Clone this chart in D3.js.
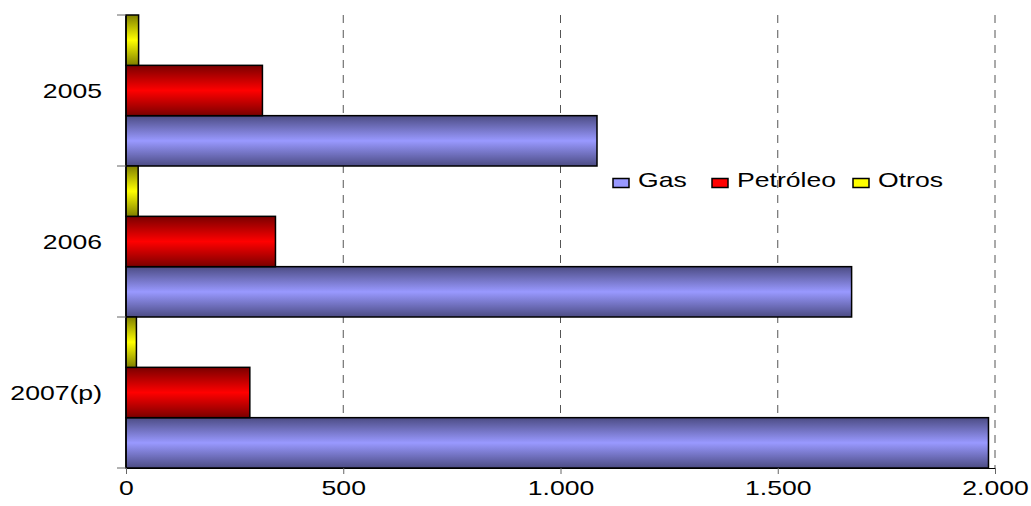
<!DOCTYPE html>
<html>
<head>
<meta charset="utf-8">
<script src="https://cdn.jsdelivr.net/npm/d3@7"></script>
<style>
  html, body { margin: 0; padding: 0; background: #fff; }
  svg { display: block; font-family: "Liberation Sans", Arial, sans-serif; }
</style>
</head>
<body>
<svg id="chart" width="1031" height="506"></svg>
<script>
// Categories (years) and series values
const years = ["2005", "2006", "2007(p)"];
const seriesNames = ["Gas", "Petróleo", "Otros"];
const gasValues = [1084, 1670, 1985];
const petroleoValues = [314, 344, 285];
const otrosValues = [29, 28, 24];
const xTicks = [0, 500, 1000, 1500, 2000];

const seriesColors = {
  "Gas":      { dark: "#4c4c84", light: "#9999ff" },
  "Petróleo": { dark: "#7a0000", light: "#ff0000" },
  "Otros":    { dark: "#7f7f00", light: "#ffff00" }
};

const rows = years.map((yr, i) => ({
  year: yr,
  "Gas": gasValues[i],
  "Petróleo": petroleoValues[i],
  "Otros": otrosValues[i]
}));

const svg = d3.select("#chart");
const plotLeft = 126, plotRight = 995, plotTop = 15, plotBottom = 468;
// text is drawn horizontally widened
const textStretch = 1.33;
const fontSize = 20;

const x = d3.scaleLinear().domain([0, 2000]).range([plotLeft, plotRight]);
const y = d3.scaleBand().domain(years).range([plotTop, plotBottom]).padding(0);
// within each year, bars run top-to-bottom: Otros, Petróleo, Gas
const yInner = d3.scaleBand().domain(["Otros", "Petróleo", "Gas"]).range([0, y.bandwidth()]).padding(0);

// gradients
const defs = svg.append("defs");
seriesNames.forEach((s, i) => {
  const g = defs.append("linearGradient")
    .attr("id", "grad" + i)
    .attr("x1", 0).attr("y1", 0).attr("x2", 0).attr("y2", 1);
  g.append("stop").attr("offset", "0%").attr("stop-color", seriesColors[s].dark);
  g.append("stop").attr("offset", "50%").attr("stop-color", seriesColors[s].light);
  g.append("stop").attr("offset", "100%").attr("stop-color", seriesColors[s].dark);
});

// dashed vertical gridlines
svg.append("g")
  .selectAll("line")
  .data(xTicks.filter(d => d > 0))
  .join("line")
  .attr("x1", d => x(d)).attr("x2", d => x(d))
  .attr("y1", plotTop).attr("y2", plotBottom)
  .attr("stroke", "#555")
  .attr("stroke-width", 1)
  .attr("stroke-dasharray", "8,7");

// bars
const groups = svg.append("g")
  .selectAll("g")
  .data(rows)
  .join("g")
  .attr("transform", d => `translate(0,${y(d.year)})`);

groups.selectAll("rect")
  .data(d => seriesNames.map((s, i) => ({ s, i, v: d[s] })))
  .join("rect")
  .attr("x", x(0))
  .attr("y", d => yInner(d.s))
  .attr("width", d => x(d.v) - x(0))
  .attr("height", yInner.bandwidth())
  .attr("fill", d => `url(#grad${d.i})`)
  .attr("stroke", "#000")
  .attr("stroke-width", 1.5);

// x axis
const fmt = d3.formatLocale({ decimal: ",", thousands: ".", grouping: [3], currency: ["", ""] }).format(",d");
const xAxis = svg.append("g")
  .attr("transform", `translate(0,${plotBottom})`)
  .call(d3.axisBottom(x).tickValues(xTicks).tickFormat(fmt).tickSize(6));
xAxis.select(".domain").attr("stroke", "#000").attr("stroke-width", 1);
xAxis.selectAll(".tick line").attr("stroke", "#666");
xAxis.selectAll("text")
  .attr("y", 27)
  .attr("dy", 0)
  .attr("transform", `scale(${textStretch},1)`)
  .attr("font-size", fontSize)
  .attr("font-family", "'Liberation Sans', Arial, sans-serif")
  .attr("fill", "#000");

// y axis with ticks at category boundaries
const yAxis = svg.append("g");
yAxis.append("line")
  .attr("x1", plotLeft).attr("x2", plotLeft)
  .attr("y1", plotTop).attr("y2", plotBottom)
  .attr("stroke", "#000").attr("stroke-width", 1.5);
yAxis.selectAll("line.tk")
  .data(years.map(d => y(d)).concat([plotBottom]))
  .join("line")
  .attr("class", "tk")
  .attr("x1", plotLeft - 9).attr("x2", plotLeft)
  .attr("y1", d => d).attr("y2", d => d)
  .attr("stroke", "#666");
yAxis.selectAll("text")
  .data(years)
  .join("text")
  .attr("transform", d => `translate(102,${y(d) + y.bandwidth() * 0.5 + 7}) scale(${textStretch},1)`)
  .attr("text-anchor", "end")
  .attr("font-size", fontSize)
  .attr("fill", "#000")
  .text(d => d);

// legend
const legendItems = [
  { name: "Gas", x: 613 },
  { name: "Petróleo", x: 712 },
  { name: "Otros", x: 853 }
];
const legend = svg.append("g");
legendItems.forEach(item => {
  legend.append("rect")
    .attr("x", item.x).attr("y", 178.5)
    .attr("width", 16).attr("height", 9)
    .attr("fill", seriesColors[item.name].light)
    .attr("stroke", "#000").attr("stroke-width", 1.5);
  legend.append("text")
    .attr("transform", `translate(${item.x + 25},187) scale(${textStretch},1)`)
    .attr("font-size", fontSize)
    .attr("fill", "#000")
    .text(item.name);
});
</script>
</body>
</html>
